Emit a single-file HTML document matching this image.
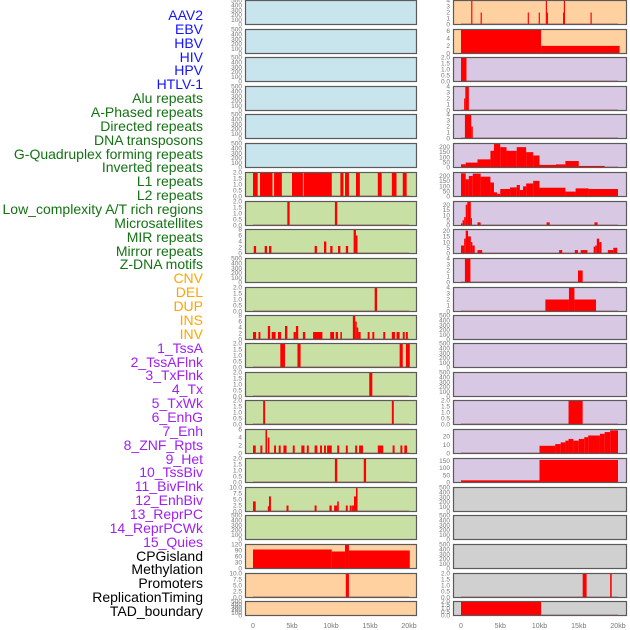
<!DOCTYPE html>
<html><head><meta charset="utf-8">
<style>
body{margin:0;background:#fff;width:630px;height:630px;overflow:hidden;font-family:"Liberation Sans",sans-serif;}
#labels div{position:absolute;right:427px;font-size:14px;line-height:14px;white-space:nowrap;}
</style></head><body>
<div id="labels"></div>
<svg id="chart" width="630" height="630" style="position:absolute;left:0;top:0"></svg>
<script>
const trackNames=["AAV2","EBV","HBV","HIV","HPV","HTLV-1","Alu repeats","A-Phased repeats","Directed repeats","DNA transposons","G-Quadruplex forming repeats","Inverted repeats","L1 repeats","L2 repeats","Low_complexity A/T rich regions","Microsatellites","MIR repeats","Mirror repeats","Z-DNA motifs","CNV","DEL","DUP","INS","INV","1_TssA","2_TssAFlnk","3_TxFlnk","4_Tx","5_TxWk","6_EnhG","7_Enh","8_ZNF_Rpts","9_Het","10_TssBiv","11_BivFlnk","12_EnhBiv","13_ReprPC","14_ReprPCWk","15_Quies","CPGisland","Methylation","Promoters","ReplicationTiming","TAD_boundary"];
const trackGroups=["v","v","v","v","v","v","r","r","r","r","r","r","r","r","r","r","r","r","r","s","s","s","s","s","c","c","c","c","c","c","c","c","c","c","c","c","c","c","c","o","o","o","o","o"];
const xTickLabels=["0","5kb","10kb","15kb","20kb"];
const xTickValues=[0,5,10,15,20];
const T500=[0,100,200,300,400,500];
const T2=[0,0.5,1,1.5,2];
const leftBg=["b","b","b","b","b","b","g","g","g","g","g","g","g","g","g","g","g","g","g","o","o","o"];
const leftTicks=[T500,T500,T500,T500,T500,T500,T2,T2,[0,2,4,6,8],T500,T2,[0,2,4,6,8],T2,T2,T2,[0,2,4,6],T2,[0,2.5,5,7.5,10],T500,[0,30,60,90,120],[0,2.5,5,7.5,10],T500];
const leftMax=[500,500,500,500,500,500,2,2,8,500,2,8,2,2,2,6,2,10,500,120,10,500];
const leftBars=[[],[],[],[],[],[],
[[0,0.6,2],[0.9,2.5,2],[2.7,3.7,2],[5,6.4,2],[6.5,10.1,2],[11.2,11.6,2],[11.8,12.3,2],[13.2,13.7,2],[16,16.5,2],[17.8,18.4,2],[19.2,19.7,2]],
[[4.4,4.7,2],[10.5,10.8,2]],
[[0.1,0.4,2.5],[1.5,1.8,2.5],[2.05,2.35,2.5],[7.9,8.2,2.5],[9.1,9.4,4],[9.9,10.2,2.5],[10.9,11.2,2.5],[11.9,12.2,2.5],[12.9,13.2,8],[13.2,13.4,6]],
[],
[[15.6,15.9,2]],
[[0,0.4,2.5],[0.7,0.95,2.5],[1.9,2.2,4.5],[2.4,2.9,2.5],[3.2,3.6,2.5],[4.1,4.4,4.5],[5.2,5.5,2.5],[5.5,5.8,4.5],[6.4,6.7,2.5],[7.7,8.9,2.5],[9.9,10.4,2.5],[10.6,10.9,2.5],[11.2,11.4,2.5],[12.8,13.1,8],[13.1,13.3,6],[13.3,13.5,4],[13.5,13.8,2.5],[14.7,14.95,2.5],[15.3,15.55,2.5],[16.7,16.95,2.5],[17.8,18.2,2.5],[18.4,18.8,2.5],[19.2,19.45,2.5],[19.6,19.85,2.5]],
[[3.5,4.1,2],[5.7,6.1,2],[18.8,19.2,2],[19.6,20.1,2]],
[[14.9,15.3,2]],
[[1.3,1.55,2],[17.8,18.05,2]],
[[0,0.35,2],[0.95,1.2,2],[1.6,1.8,6],[1.9,2.1,4],[2.7,2.95,2],[3.3,3.55,2],[3.9,4.3,2],[5.1,5.35,2],[6.2,6.6,2],[6.9,7.15,2],[7.9,8.25,2],[8.6,8.85,2],[9.1,9.35,2],[9.5,10.1,2],[10.8,11.05,2],[11.9,12.15,2],[13.1,13.35,2],[13.6,14.1,2],[16,16.7,2],[17.9,18.15,2],[18.9,19.15,2],[19.4,19.75,2]],
[[10.5,10.8,2],[14.2,14.5,2]],
[[0,0.35,4.2],[1.9,2.05,2.2],[2.05,2.3,6.3],[4.3,4.55,2.5],[7.9,8.15,2.5],[9.8,10.1,2.5],[10.4,10.8,2.5],[10.8,11,4.2],[11.9,12.15,2.5],[12.4,12.65,2.5],[12.7,12.95,2.5],[12.95,13.2,6.3],[13.2,13.4,10]],
[],
[[0,10.1,95],[10.1,11.8,85],[11.8,12.3,120],[12.3,20.1,90]],
[[11.9,12.3,10]],
[]];
const rightBg=["o","o","p","p","p","p","p","p","p","p","p","p","p","p","p","p","p","y","y","y","y","y"];
const rightTicks=[[0,1,2,3,4],[0,2,4,6],T2,[0,1,2,3,4],[0,1,2,3,4],[0,50,100,150,200],[0,50,100,150,200],[0,5,10,15,20],[0,5,10,15,20],[0,1,2,3,4],[0,1,2,3,4],T500,T500,T500,T2,[0,10,20],[0,50,100,150],T500,T500,T500,T2,T2];
const rightMax=[4,6.3,2,4,4,230,230,23,21,4,4,500,500,500,2,28,165,500,500,500,2,2];
const rightBars=[
[[1.3,1.45,4],[2.5,2.65,2],[8.5,8.65,2],[9.9,10.05,2],[10.8,10.95,4],[10.95,11.05,2],[13.1,13.25,4],[13,13.1,2],[16.5,16.65,2]],
[[0,10.2,6.2],[10.2,20.2,2]],
[[0,0.7,2]],
[[0.4,0.55,2],[0.55,1.0,4]],
[[0.5,1.3,4],[1.3,1.5,2]],
[[0,0.6,31],[0.6,2.1,47],[2.1,3.75,78],[3.75,4.2,160],[4.2,5,225],[5,5.8,195],[5.8,7.1,160],[7.1,8.3,195],[8.3,9.2,147],[9.2,10,115],[10,12.1,25],[12.1,13.3,30],[13.3,15,62],[15,18.3,15]],
[[0,0.6,222],[0.6,1,165],[1,1.5,197],[1.5,2.5,219],[2.5,3.75,190],[3.75,4.2,134],[4.2,4.6,40],[4.6,5,25],[5,6.25,72],[6.25,7.1,87],[7.1,7.5,110],[7.5,7.9,62],[7.9,8.3,97],[8.3,9.2,125],[9.2,10,150],[10,13.3,84],[13.3,14.6,47],[14.6,16.25,78],[16.25,20,72]],
[[0,0.2,2],[0.2,0.4,5],[0.4,0.6,8],[0.6,0.8,20],[0.8,1.25,23],[1.25,1.4,7],[2.1,2.5,3],[10.9,11.3,3],[17,17.4,3]],
[[0,0.4,7],[0.4,0.6,13],[0.6,0.9,20],[0.9,1.25,15],[1.25,1.45,10],[1.45,1.75,7],[2.1,2.7,3],[12.5,12.9,3],[14.5,14.9,3],[15.25,16.1,3],[16.9,17.1,6],[17.1,17.3,7],[17.3,17.6,13],[17.6,17.9,10],[18.7,19.4,3],[19.4,19.9,5]],
[[0.5,1.2,4],[14.9,15.5,2]],
[[10.75,13.75,2],[13.75,14.45,4],[14.45,17.2,2]],
[],[],[],
[[13.7,15.5,2]],
[[10,12,9],[12,12.7,11],[12.7,13.3,13],[13.3,13.7,15],[13.7,14.3,17],[14.3,15,15],[15,15.7,17],[15.7,16.2,19],[16.2,17.7,21],[17.7,18.3,23],[18.3,19,25],[19,20,27]],
[[0,10,15],[10,20,155]],
[],[],[],
[[15.5,16,2],[19,19.2,2]],
[[0,10.2,2]]];
const rowTops=[0,29,57,86,114,143,172,201,229,258,287,315,343,372,400,429,458,487,515,544,573,601];
const colors={b:"#c8e4ec",g:"#c8e0a4",o:"#ffd0a0",p:"#d8c8e4",y:"#d0d0d0"};
const labelColors={v:"#1414ff",r:"#137313",s:"#ffa500",c:"#a020f0",o:"#000"};
const NS="http://www.w3.org/2000/svg";
const svg=document.getElementById('chart');
const lab=document.getElementById('labels');
trackNames.forEach((n,i)=>{
  const d=document.createElement('div');
  d.textContent=n;
  d.style.top=(8+i*13.86)+"px";
  d.style.color=labelColors[trackGroups[i]];
  
  
  lab.appendChild(d);
});
function mk(tag,attrs,parent){const e=document.createElementNS(NS,tag);for(const k in attrs)e.setAttribute(k,attrs[k]);parent.appendChild(e);return e;}
function drawCol(px0,px1,x0kb,x20kb,bgs,ticks,maxs,bars,side){
  const xs=kb=>x0kb+(x20kb-x0kb)*kb/20;
  rowTops.forEach((top,i)=>{
    const h=(i===rowTops.length-1)?15:25;
    const g=mk('g',{},svg);
    
    
    mk('rect',{x:px0,y:top,width:px1-px0,height:h,fill:colors[bgs[i]]},g);
    const base=top+h-0.5, topY=top+0.5;
    const ys=v=>base-(base-topY)*v/maxs[i];
    const bs=bars[i];
    if(bs.length){
      const bl=mk('line',{x1:xs(0),x2:xs(20),y1:base-0.5,y2:base-0.5,stroke:"#b04040","stroke-width":1,opacity:0.7},g);
      
      
    }
    bs.forEach(b=>{
      const r=mk('rect',{x:xs(b[0]),y:ys(b[2]),width:Math.max(1,xs(b[1])-xs(b[0])),height:base-ys(b[2]),fill:"#ff0000"},g);
      
      
    });
    mk('rect',{x:px0+0.5,y:top+0.5,width:px1-px0-1,height:h-1,fill:"none",stroke:"#5a5a5a","stroke-width":1.2},g);
    const dec=ticks[i].some(v=>v%1!==0);
    ticks[i].forEach(t=>{
      const tx=mk('text',{x:px0-3,y:ys(t)+2.2,"text-anchor":"end","font-size":6.5,fill:"#777","font-family":"Liberation Sans, sans-serif"},g);
      tx.textContent=dec?t.toFixed(1):String(t);
      
      
    });
  });
  xTickValues.forEach((v,j)=>{
    const t=mk('text',{x:xs(v),y:628,"text-anchor":"middle","font-size":7,fill:"#777","font-family":"Liberation Sans, sans-serif"},svg);
    t.textContent=xTickLabels[j];
    
    
  });
}
drawCol(245,417,253,409,leftBg,leftTicks,leftMax,leftBars,'left');
drawCol(453,627,461,618,rightBg,rightTicks,rightMax,rightBars,'right');
</script>
</body></html>
